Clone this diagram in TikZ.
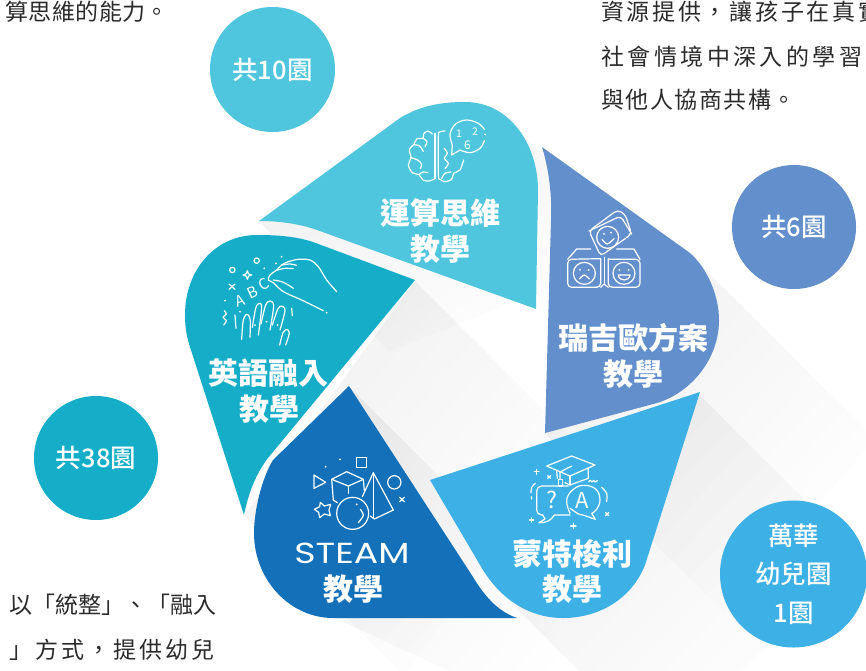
\documentclass[tikz,border=0pt]{standalone}
\usepackage{fontspec}
\usetikzlibrary{fadings}
\setmainfont{Noto Sans CJK TC}
\newfontfamily\cjkm{Noto Sans CJK TC Medium}
\newfontfamily\lat{Poppins}
\definecolor{cA}{HTML}{4FC6DD}
\definecolor{cB}{HTML}{15ADC8}
\definecolor{cC}{HTML}{1470B8}
\definecolor{cD}{HTML}{3DB0E6}
\definecolor{cE}{HTML}{6390CC}
\definecolor{body}{HTML}{2B2B2B}
\pgfdeclareverticalshading{castgrad}{100bp}{color(0bp)=(pgftransparent!100); color(38bp)=(pgftransparent!100); color(100bp)=(pgftransparent!86)}
\pgfdeclarefading{castfade}{\tikz \shade[shading=castgrad] (0,0) rectangle (100bp,100bp);}
\tikzset{
  cast/.style={fill=black, path fading=castfade, fading angle=45, fit fading=true},
  bubble/.style={circle, minimum size=#1, inner sep=0pt, text=white, align=center,
    font=\cjkm\fontsize{25.5}{38.5}\selectfont},
  label/.style={text=white, inner sep=0pt, anchor=center, font=\fontsize{30}{34}\selectfont\bfseries},
  para/.style={anchor=base west, inner sep=0pt, text=body},
  ico/.style={draw=white, line width=1.2pt, line cap=round, line join=round},
  icotxt/.style={text=white, inner sep=0pt, font=\fontsize{#1}{#1}\selectfont}
}
\begin{document}
\begin{tikzpicture}[x=1pt,y=-1pt]
\useasboundingbox (0,0) rectangle (866,670);
% cast shadows
\fill[cast] (510,122) -- (640,252) -- (389,351) -- (259,221) -- cycle;
\fill[cast] (415,280) -- (575,440) -- (404,675) -- (244,515) -- cycle;
\fill[cast] (349,386) -- (520,557) -- (600,740) -- (275,590) -- cycle;
\fill[cast] (700,392) -- (860,552) -- (660,750) -- (500,590) -- cycle;
\fill[cast] (695,258) -- (875,438) -- (725,613) -- (545,433) -- cycle;
% petals
\fill[cA] (259,221) -- (400,118) .. controls (420,106) and (440,102) .. (465,102) .. controls (510,102) and (538,145) .. (538,190) -- (536,309) -- (317,230) .. controls (300,224) and (280,221) .. (259,221) -- cycle;
\fill[cB] (415,280) -- (313,242) .. controls (295,236) and (275,235) .. (257,235) .. controls (215,235) and (185,270) .. (185,315) .. controls (185,328) and (187,338) .. (190,347) -- (244,515) .. controls (248,495) and (255,475) .. (268,458) -- cycle;
\fill[cC] (349,386) -- (473,577) .. controls (487,600) and (500,612) .. (517,618) -- (333,618) .. controls (290,618) and (254,580) .. (254,533) .. controls (254,510) and (262,478) .. (273,460) -- cycle;
\fill[cD] (430,480) -- (700,392) -- (645,565) .. controls (632,598) and (600,618) .. (563,618) .. controls (530,618) and (500,600) .. (480,565) -- cycle;
\fill[cE] (542,147) -- (690,253) .. controls (707,268) and (719,295) .. (719,320) .. controls (719,360) and (690,393) .. (657,403) -- (545,433) -- (551,220) .. controls (552,195) and (549,170) .. (542,147) -- cycle;
% circles
\node[bubble=125pt, fill=cA] (c10) at (272.5,69.5) {共10園};
\node[bubble=124pt, fill=cE] (c6) at (794,227) {共6園};
\node[bubble=124pt, fill=cB] (c38) at (96,458) {共38園};
\node[bubble=147pt, fill=cD] (c1) at (793.5,574) {萬華\\幼兒園\\1園};
% petal labels
\node[label] (t1) at (440,213) {運算思維};
\node[label] (t1b) at (440,249) {教學};
\node[label] (t2) at (268,373) {英語融入};
\node[label] (t2b) at (269,409) {教學};
\node[label] (t3) at (633,338) {瑞吉歐方案};
\node[label] (t3b) at (633,374) {教學};
\node[text=white, inner sep=0pt, xscale=1.25, transform shape] (t4) at (352,553) {\lat\fontsize{29}{30}\selectfont STEAM};
\node[label] (t4b) at (353,589) {教學};
\node[label] (t5) at (572,554) {蒙特梭利};
\node[label] (t5b) at (572,589) {教學};
% body text
\node[para] (p1) at (5,20) {\fontsize{23}{26}\selectfont\addfontfeature{LetterSpace=2}算思維的能力。};
\node[para] (p2) at (601,20) {\fontsize{23}{26}\selectfont\addfontfeature{LetterSpace=11.7}資源提供，讓孩子在真實};
\node[para] (p3) at (601,65) {\fontsize{23}{26}\selectfont\addfontfeature{LetterSpace=15}社會情境中深入的學習};
\node[para] (p4) at (601,108) {\fontsize{23}{26}\selectfont\addfontfeature{LetterSpace=6.5}與他人協商共構。};
\node[para] (p5) at (9,613) {\fontsize{23}{26}\selectfont 以「統整」、「融入};
\node[para] (p6) at (9,658) {\fontsize{23}{26}\selectfont\addfontfeature{LetterSpace=13.5}」方式，提供幼兒};
% brain icon
\begin{scope}[shift={(395,110)},x=0.3333pt,y=-0.3333pt]
\draw[ico] plot[smooth,tension=.55] coordinates {(112,72)(98,63)(86,72)(84,85)(66,86)(56,104)(43,118)(48,143)(40,165)(52,188)(72,194)(84,210)(103,213)(120,206)};
\draw[ico] plot[smooth] coordinates {(56,104)(74,108)(85,124)};
\draw[ico] plot[smooth] coordinates {(48,143)(68,150)(80,163)(76,176)};
\draw[ico] plot[smooth] coordinates {(84,85)(96,95)(90,110)};
\draw[ico] plot[smooth] coordinates {(72,194)(84,186)(98,188)};
\draw[ico] (120,70) -- (120,206);
\draw[ico] plot[smooth] coordinates {(150,63)(134,66)(130,80)(130,195)(135,208)(150,215)(170,208)(176,190)(195,180)(206,150)};
\draw[ico] plot[smooth] coordinates {(140,205)(150,190)(168,186)};
\draw[ico] plot[smooth] coordinates {(148,115)(157,130)(148,145)(160,160)(150,176)};
\draw[ico] plot[smooth,tension=.6] coordinates {(268,58)(250,40)(215,30)(182,42)(165,72)(172,105)};
\draw[ico] (172,105) -- (170,135) -- (195,120);
\draw[ico] plot[smooth,tension=.6] coordinates {(195,120)(225,128)(255,115)(268,92)};
\fill[white] (270,73) circle (3);
\node[icotxt=10.5] (n1) at (192,70) {1};
\node[icotxt=10.5] (n2) at (240,66) {2};
\node[icotxt=12] (n6) at (217,105) {6};
\end{scope}
% hand icon
\begin{scope}[shift={(215,250)},x=0.3333pt,y=-0.3333pt]
\draw[ico] plot[smooth] coordinates {(365,125)(335,90)(310,50)(285,30)(250,28)(220,35)(200,45)(185,60)(165,75)(160,90)(175,98)(205,125)(260,150)(325,182)};
\draw[ico] plot[smooth] coordinates {(200,45)(225,42)(245,46)};
\draw[ico] plot[smooth] coordinates {(187,60)(210,55)(235,56)};
\draw[ico] plot[smooth] coordinates {(175,90)(200,95)(220,105)(235,115)};
\draw[ico] (52,60) circle (8);
\draw[ico] (125,32) circle (8);
\draw[ico] (97,62) .. controls (99,72) and (100,73) .. (110,75) .. controls (100,77) and (99,78) .. (97,88) .. controls (95,78) and (94,77) .. (84,75) .. controls (94,73) and (95,72) .. (97,62) -- cycle;
\draw[ico] (42,102) -- (60,118) (60,102) -- (42,118);
\foreach \p in {(148,55),(30,152),(183,40),(200,20),(335,188),(75,185),(155,215),(120,225),(188,225)} \fill[white] \p circle (3);
\node[icotxt=15, rotate=18] (lA) at (75,152) {A};
\node[icotxt=15, rotate=25] (lB) at (112,127) {B};
\node[icotxt=15, rotate=30] (lC) at (148,103) {C};
\draw[ico] plot[smooth] coordinates {(28,182)(34,192)(24,202)(34,212)(26,225)};
\draw[ico] plot[smooth,tension=.5] coordinates {(80,268)(84,215)(92,195)(100,195)(106,212)(105,262)};
\draw[ico] plot[smooth,tension=.5] coordinates {(112,232)(122,175)(132,160)(140,172)(130,255)};
\draw[ico] plot[smooth,tension=.5] coordinates {(138,222)(152,165)(166,153)(176,168)(165,240)};
\draw[ico] plot[smooth,tension=.5] coordinates {(172,225)(188,178)(200,168)(210,182)(195,240)};
\draw[ico] plot[smooth,tension=.5] coordinates {(194,285)(204,248)(216,238)(223,250)(212,285)};
\draw[ico] (60,195) -- (63,235);
\draw[ico] (230,175) -- (232,197);
\end{scope}
% STEAM icon
\begin{scope}[shift={(305,450)},x=0.3333pt,y=-0.3333pt]
\draw[ico] (155,22) rectangle (185,52);
\draw[ico] (27,75) -- (62,97) -- (27,115) -- cycle;
\draw[ico] (80,88) -- (125,65) -- (175,88) -- (130,108) -- cycle;
\draw[ico] (130,108) -- (130,130);
\draw[ico] (80,88) -- (85,150) -- (97,158);
\draw[ico] (175,88) -- (178,122);
\draw[ico] (143,190) circle (48);
\draw[ico] (172,140) -- (205,68) -- (265,180) -- (208,207) -- (196,198);
\draw[ico] (205,68) -- (205,205);
\draw[ico] (268,97) circle (20);
\draw[ico] (284,142) -- (298,155) (298,142) -- (284,155);
\draw[ico] (46,157) -- (58,168) -- (77,163) -- (72,180) -- (76,197) -- (58,192) -- (44,203) -- (41,187) -- (28,178) -- (44,170) -- cycle;
\fill[white] (62,50) circle (3) (105,28) circle (3) (155,163) circle (3);
\draw[ico] plot[smooth] coordinates {(166,178)(175,196)(160,218)};
\end{scope}
% Montessori icon
\begin{scope}[shift={(520,450)},x=0.3333pt,y=-0.3333pt]
\draw[ico] (80,48) -- (155,18) -- (225,45) -- (150,78) -- cycle;
\draw[ico] (110,64) -- (112,85);
\draw[ico] (205,55) -- (205,85) -- (150,105) -- (135,98);
\draw[ico] (150,78) -- (150,105);
\draw[ico] (155,48) -- (120,66) -- (120,88);
\draw[ico] (115,88) rectangle (127,108);
\draw[ico,rounded corners=5pt] (145,108) -- (50,108) -- (50,195) -- (68,195);
\draw[ico] (68,195) -- (75,207) -- (57,218) .. controls (78,220) and (95,210) .. (103,195) -- (150,195);
\draw[ico] plot[smooth,tension=.7] coordinates {(150,190)(140,150)(160,118)(193,106)(228,118)(240,150)(230,178)(215,190)};
\draw[ico] (215,190) -- (226,208) -- (195,197) -- (175,192) -- (150,175);
\node[icotxt=23] (q) at (97,150) {?};
\node[icotxt=22] (a) at (187,150) {A};
\draw[ico] (50,58) -- (50,73) (43,65) -- (57,65);
\draw[ico] (83,77) -- (92,85) (92,77) -- (83,85);
\draw[ico] plot[smooth] coordinates {(46,100)(35,112)(33,128)};
\draw[ico] (34,140) -- (35,147);
\draw[ico] plot[smooth] coordinates {(245,112)(260,130)(260,155)};
\draw[ico] (257,188) -- (266,197) (266,188) -- (257,197);
\draw[ico] (206,95) -- (211,91) -- (216,96) -- (221,91) -- (226,96) -- (232,92);
\draw[ico] (35,204) -- (35,216) (29,210) -- (41,210);
\draw[ico] (160,220) -- (160,236) (152,228) -- (168,228);
\end{scope}
% Reggio icon
\begin{scope}[shift={(530,130)},x=0.3333pt,y=-0.3333pt]
\draw[ico,rounded corners=4pt] (177,303) -- (262,240) -- (285,252) -- (305,312) -- (212,378) -- cycle;
\draw[ico,rounded corners=4pt] (177,303) -- (272,258) -- (305,312);
\draw[ico] (233,322) circle (33);
\fill[white] (222,312) circle (3) (243,308) circle (3);
\draw[ico] plot[smooth] coordinates {(216,328)(232,342)(252,326)};
\draw[ico,rounded corners=4pt] (212,386) -- (113,388) -- (113,472) -- (212,472) -- (212,386);
\draw[ico] (113,388) -- (140,357) -- (182,357);
\draw[ico] (163,430) circle (33);
\fill[white] (150,420) circle (3) (176,420) circle (3);
\draw[ico] plot[smooth] coordinates {(148,447)(163,435)(178,447)};
\draw[ico,rounded corners=4pt] (235,386) -- (235,472) -- (330,472) -- (330,388) -- (235,388);
\draw[ico] (260,357) -- (312,357) -- (330,388);
\draw[ico] (282,430) circle (33);
\fill[white] (268,420) circle (3) (296,420) circle (3);
\draw[ico] (265,435) -- (300,435) .. controls (298,455) and (267,455) .. (265,435) -- cycle;
\draw[ico] (212,472) -- (222,462) -- (235,472);
\draw[ico] (223,382) -- (223,460);
\end{scope}
\end{tikzpicture}
\end{document}
